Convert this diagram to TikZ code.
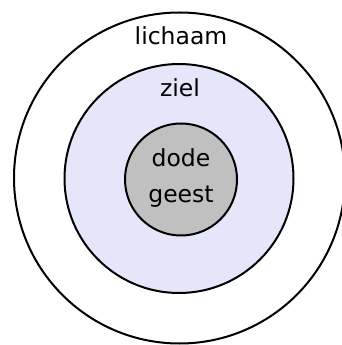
\documentclass[tikz,border=0pt]{standalone}
\usepackage{fontspec}
\setmainfont{DejaVu Sans}
\definecolor{zielfill}{HTML}{E6E6FA}
\definecolor{geestfill}{HTML}{C0C0C0}
\begin{document}
\begin{tikzpicture}[x=1pt,y=1pt,
  ring/.style={circle,draw=black,line width=2pt,inner sep=0pt},
  lbl/.style={font=\fontsize{23.5}{28}\selectfont,anchor=base,inner sep=0pt}]
\useasboundingbox (0,0) rectangle (342,345);
\begin{scope}
\clip (0,0) rectangle (342,345);
\node[ring,fill=white,minimum size=331pt] (lichaam) at (179.5,167) {};
\end{scope}
\node[ring,fill=zielfill,minimum size=229pt] (ziel) at (179,166.5) {};
\node[ring,fill=geestfill,minimum size=112pt] (geest) at (181,165.5) {};
\node[lbl] (tl) at (181,300) {lichaam};
\node[lbl] (tz) at (180,248) {ziel};
\node[lbl] (td) at (181,178) {dode};
\node[lbl] (tg) at (181,142) {geest};
\end{tikzpicture}
\end{document}
